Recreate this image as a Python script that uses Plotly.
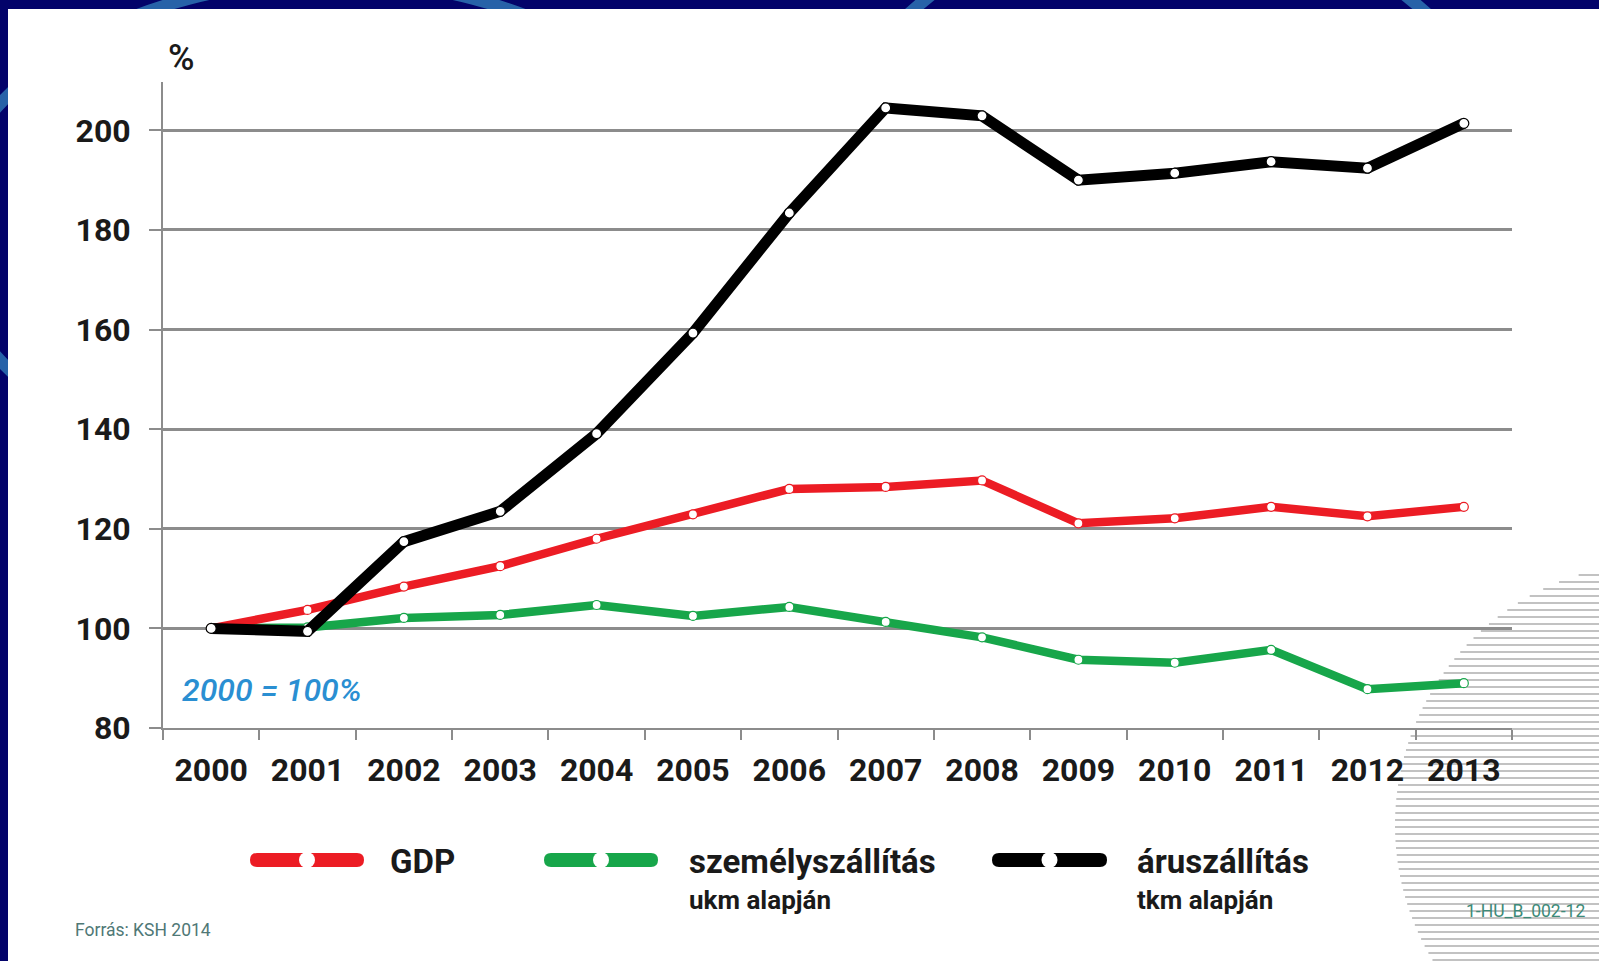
import math
import plotly.graph_objects as go

# Index values, 2000 = 100%
years = ["2000", "2001", "2002", "2003", "2004", "2005", "2006",
         "2007", "2008", "2009", "2010", "2011", "2012", "2013"]
gdp = [100.0, 103.7, 108.4, 112.5, 118.0, 122.9, 128.0,
       128.4, 129.7, 121.1, 122.1, 124.4, 122.5, 124.4]
szemelyszallitas = [100.0, 100.2, 102.1, 102.7, 104.7, 102.5, 104.3,
                    101.3, 98.2, 93.7, 93.1, 95.7, 87.8, 89.0]
aruszallitas = [100.0, 99.4, 117.4, 123.5, 139.1, 159.3, 183.4,
                204.5, 202.9, 190.0, 191.4, 193.7, 192.4, 201.4]

series_names = ["GDP", "személyszállítás", "áruszállítás"]
series_notes = ["", "ukm alapján", "tkm alapján"]
y_ticks = [80, 100, 120, 140, 160, 180, 200]

RED = "#ec1c24"
GREEN = "#17a64a"
BLACK = "#000000"
GRID = "#8c8c8c"
NAVY = "#03036a"
LIGHT_BLUE = "#2762a8"
FONT = "Roboto"

W_PX, H_PX = 1599, 961
M_L, M_R, M_T, M_B = 163, 87, 82, 233
PW = W_PX - M_L - M_R
PH = H_PX - M_T - M_B


def px(x):
    return (x - M_L) / PW


def py(y):
    return 1 - (y - M_T) / PH


fig = go.Figure()

for vals, color, width, msize in [
    (szemelyszallitas, GREEN, 8.5, 9),
    (gdp, RED, 8.5, 9),
    (aruszallitas, BLACK, 11, 10),
]:
    fig.add_trace(go.Scatter(
        x=years, y=vals, mode="lines+markers",
        line=dict(color=color, width=width),
        marker=dict(size=msize, color="white", line=dict(color=color, width=1.2)),
        showlegend=False, hoverinfo="skip",
    ))

shapes = []

# dark frame with light-blue arcs, then the white panel over it
shapes.append(dict(type="circle", xref="paper", yref="paper", layer="below",
                   x0=px(331 - 385), x1=px(331 + 385), y0=py(232 - 251), y1=py(232 + 251),
                   line=dict(color=LIGHT_BLUE, width=12), fillcolor="rgba(0,0,0,0)"))
shapes.append(dict(type="circle", xref="paper", yref="paper", layer="below",
                   x0=px(1168 - 390), x1=px(1168 + 390), y0=py(305 - 390), y1=py(305 + 390),
                   line=dict(color=LIGHT_BLUE, width=12), fillcolor="rgba(0,0,0,0)"))
shapes.append(dict(type="rect", xref="paper", yref="paper", layer="below",
                   x0=px(8), x1=px(W_PX + 5), y0=py(9), y1=py(H_PX + 5),
                   line=dict(width=0), fillcolor="white"))

# striped disc in the lower right corner
cx, cy, r = 1657, 825, 262
yy = cy - r + 5
while yy < H_PX:
    hc = math.sqrt(max(r * r - (yy - cy) ** 2, 0))
    shapes.append(dict(type="line", xref="paper", yref="paper", layer="below",
                       x0=px(cx - hc), x1=px(W_PX), y0=py(yy), y1=py(yy),
                       line=dict(color="#c2c2c2", width=2)))
    yy += 7

# legend keys: thick rounded bar with a white dot in the middle
def legend_key(x0, x1, yc, color):
    h = 7
    rr = 7
    path = (f"M {px(x0 + rr)} {py(yc - h)} L {px(x1 - rr)} {py(yc - h)} "
            f"Q {px(x1)} {py(yc - h)} {px(x1)} {py(yc)} "
            f"Q {px(x1)} {py(yc + h)} {px(x1 - rr)} {py(yc + h)} "
            f"L {px(x0 + rr)} {py(yc + h)} "
            f"Q {px(x0)} {py(yc + h)} {px(x0)} {py(yc)} "
            f"Q {px(x0)} {py(yc - h)} {px(x0 + rr)} {py(yc - h)} Z")
    shapes.append(dict(type="path", path=path, xref="paper", yref="paper",
                       line=dict(width=0), fillcolor=color))
    xm = (x0 + x1) / 2
    shapes.append(dict(type="circle", xref="paper", yref="paper",
                       x0=px(xm - 8), x1=px(xm + 8), y0=py(yc - 8), y1=py(yc + 8),
                       line=dict(width=0), fillcolor="white"))


key_specs = [(250, 364, RED, 388), (544, 658, GREEN, 687), (992, 1107, BLACK, 1135)]
for x0, x1, color, _ in key_specs:
    legend_key(x0, x1, 860, color)

annotations = []


def text(s, x, y, size, color="#1a1a1a", anchor="left", weight="bold", style="normal"):
    annotations.append(dict(
        text=s, x=px(x), y=py(y), xref="paper", yref="paper",
        xanchor=anchor, yanchor="middle", showarrow=False,
        font=dict(family=FONT, size=size, color=color, weight=weight, style=style),
    ))


for (x0, x1, color, tx), name, note in zip(key_specs, series_names, series_notes):
    text(name, tx, 861, 33)
    if note:
        text(note, tx, 900, 26)

text("%", 166, 58, 36, weight=500)
text("2000 = 100%", 180, 690, 32, color="#2a8fd2", weight=500, style="italic")
text("Forrás: KSH 2014", 73, 930, 17.5, color="#4f7876", weight="normal")
text("1-HU_B_002-12", 1587, 911, 17.5, color="#3d8a78", anchor="right", weight="normal")

fig.update_layout(
    width=W_PX, height=H_PX,
    margin=dict(l=M_L, r=M_R, t=M_T, b=M_B),
    paper_bgcolor=NAVY, plot_bgcolor="rgba(0,0,0,0)",
    shapes=shapes, annotations=annotations,
    showlegend=False,
    xaxis=dict(
        type="category", range=[-0.5, 13.5], tickson="boundaries",
        ticks="outside", ticklen=10, tickwidth=2, tickcolor=GRID,
        showline=True, linecolor=GRID, linewidth=2, showgrid=False,
        tickfont=dict(family=FONT, size=32, color="#1a1a1a", weight="bold"),
        ticklabelstandoff=13, fixedrange=True,
    ),
    yaxis=dict(
        range=[80, 209.7], tickvals=y_ticks,
        ticks="outside", ticklen=12, tickwidth=2, tickcolor=GRID,
        showline=True, linecolor=GRID, linewidth=2,
        showgrid=True, gridcolor=GRID, gridwidth=2.5, zeroline=False,
        tickfont=dict(family=FONT, size=32, color="#1a1a1a", weight="bold"),
        ticklabelstandoff=12, fixedrange=True,
    ),
)

fig.write_html("out.html")
